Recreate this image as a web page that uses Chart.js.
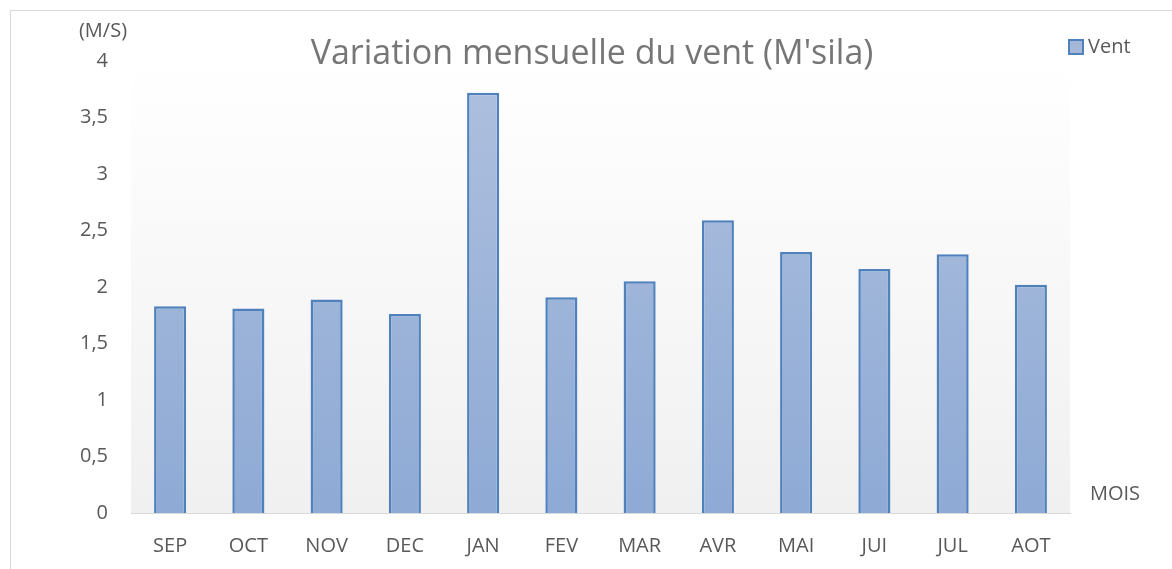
<!DOCTYPE html>
<html>
<head>
<meta charset="utf-8">
<script src="https://cdn.jsdelivr.net/npm/chart.js@4"></script>
<style>
  body { margin: 0; background: #fff; }
  #wrap { width: 1172px; height: 569px; }
</style>
</head>
<body>
<div id="wrap"><canvas id="ventChart" width="1172" height="569"></canvas></div>
<script>
const months = ["SEP", "OCT", "NOV", "DEC", "JAN", "FEV", "MAR", "AVR", "MAI", "JUI", "JUL", "AOT"];
const vent = [1.83, 1.81, 1.89, 1.76, 3.72, 1.91, 2.05, 2.59, 2.31, 2.16, 2.29, 2.02];
const yTicks = [0, 0.5, 1, 1.5, 2, 2.5, 3, 3.5, 4];

const FONT = "'Open Sans', sans-serif";
const TEXT = "#595959";

// background of plot area + outer frame + extra labels
const decor = {
  id: "decor",
  beforeDraw(chart) {
    const ctx = chart.ctx, a = chart.chartArea;
    ctx.save();
    ctx.strokeStyle = "#d9d9d9";
    ctx.lineWidth = 1;
    ctx.strokeRect(10.5, 10.5, 1300, 700);
    const g = ctx.createLinearGradient(0, a.top, 0, a.bottom);
    g.addColorStop(0, "#ffffff");
    g.addColorStop(1, "#f0f0f0");
    ctx.fillStyle = g;
    ctx.fillRect(a.left, a.top, a.right - a.left, a.bottom - a.top);
    ctx.restore();
  },
  afterDraw(chart) {
    const ctx = chart.ctx;
    ctx.save();
    ctx.fillStyle = "#767676";
    ctx.font = "34px " + FONT;
    ctx.textAlign = "center";
    ctx.textBaseline = "middle";
    ctx.fillText("Variation mensuelle du vent (M'sila)", 592, 54);

    ctx.fillStyle = TEXT;
    ctx.font = "20px " + FONT;
    ctx.textAlign = "center";
    ctx.fillText("(M/S)", 103, 31);
    ctx.fillText("MOIS", 1115, 494);

    // legend
    ctx.textAlign = "left";
    ctx.fillText("Vent", 1088, 47);
    ctx.fillStyle = "#a5b8da";
    ctx.strokeStyle = "#4f81bd";
    ctx.lineWidth = 2;
    ctx.fillRect(1069, 40, 14, 14);
    ctx.strokeRect(1069, 40, 14, 14);
    ctx.restore();
  }
};

const ctx = document.getElementById("ventChart").getContext("2d");
const chart = new Chart(ctx, {
  type: "bar",
  data: {
    labels: months,
    datasets: [{
      label: "Vent",
      data: vent,
      backgroundColor: function (c) {
        const a = c.chart.chartArea;
        if (!a) return "#9fb4d9";
        const g = c.chart.ctx.createLinearGradient(0, a.top, 0, a.bottom);
        g.addColorStop(0, "#afc0de");
        g.addColorStop(1, "#8eaad5");
        return g;
      },
      borderColor: "#4f81bd",
      borderWidth: 2.5,
      categoryPercentage: 1,
      barPercentage: 0.41
    }]
  },
  options: {
    responsive: false,
    animation: false,
    layout: { padding: { left: 0, top: 61, right: 102, bottom: 6 } },
    plugins: {
      legend: { display: false },
      title: { display: false },
      tooltip: { enabled: false }
    },
    scales: {
      x: {
        grid: { display: false, drawTicks: false },
        border: { display: true, color: "#d9d9d9", width: 1 },
        ticks: { color: TEXT, font: { family: FONT, size: 20 }, padding: 21 },
        afterFit(s) { s.height = 50; }
      },
      y: {
        min: 0,
        max: 4,
        afterBuildTicks(s) { s.ticks = yTicks.map(v => ({ value: v })); },
        grid: { display: false, drawTicks: false },
        border: { display: false },
        ticks: {
          color: TEXT,
          font: { family: FONT, size: 20 },
          padding: 23,
          callback: v => String(v).replace(".", ",")
        },
        afterFit(s) { s.width = 131; }
      }
    }
  },
  plugins: [decor]
});
</script>
</body>
</html>
